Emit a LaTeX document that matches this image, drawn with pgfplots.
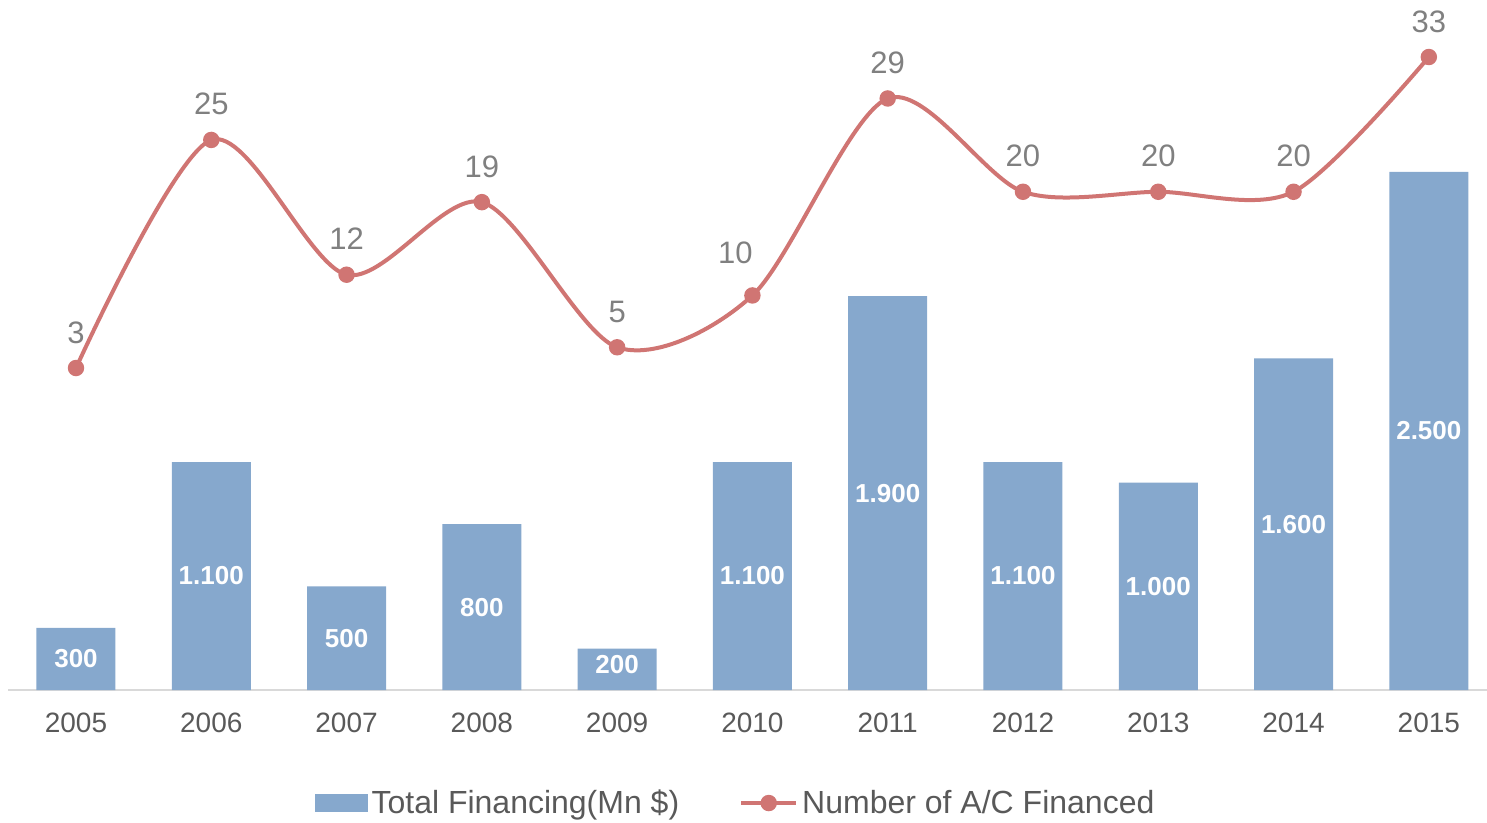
\documentclass[border=0pt]{standalone}
\usepackage{fontspec}
\setmainfont{Liberation Sans}
\usepackage{pgfplots}
\usepackage{pgfplotstable}
\pgfplotsset{compat=1.18}

\definecolor{barblue}{RGB}{134,168,205}
\definecolor{linered}{RGB}{208,117,115}
\definecolor{ticktext}{RGB}{89,89,89}
\definecolor{labtext}{RGB}{128,128,128}
\definecolor{axisgray}{RGB}{217,217,217}

% year index, financing (Mn $), number of A/C financed,
% plus small label nudges (pt) where the chart moved a label
\pgfplotstableread{
idx year fin  acs lx   ly  by
0   2005 300  3   0    0   0
1   2006 1100 25  0    0   0
2   2007 500  12  0    0   0
3   2008 800  19  0    0   0
4   2009 200  5   0    0   2.5
5   2010 1100 10  -8.5 3.5 0
6   2011 1900 29  0    0   0
7   2012 1100 20  0    0   0
8   2013 1000 20  0    0   0
9   2014 1600 20  0    0   0
10  2015 2500 33  0    0   0
}\datatable

\begin{document}
\begin{tikzpicture}
\pgfplotsset{
  common/.style={
    scale only axis, width=739.3pt, height=345pt,
    xmin=-0.5, xmax=10.43,
    /pgf/number format/assume math mode=true,
    axis y line=none, ytick=\empty,
    major tick length=0pt,
    clip=false,
  }
}
\begin{axis}[common, name=main,
  ymin=0, ymax=3329,
  axis x line*=bottom,
  x axis line style={draw=axisgray, line width=1pt, -},
  xtick={0,...,10},
  xticklabels={2005,2006,2007,2008,2009,2010,2011,2012,2013,2014,2015},
  xticklabel style={font=\fontsize{14}{16}\selectfont, text=ticktext,
    anchor=north, inner sep=0pt, yshift=-11.5pt},
  ybar, bar width=39.5pt,
  nodes near coords,
  visualization depends on={\thisrow{fin} \as \rawy},
  visualization depends on={\thisrow{by} \as \byoff},
  nodes near coords style={font=\fontsize{13}{15}\selectfont\bfseries,
    text=white, anchor=center, inner sep=0pt,
    yshift={-0.05182*\rawy+\byoff}},
  /pgf/number format/fixed, /pgf/number format/precision=0,
  /pgf/number format/1000 sep={.},
]
\addplot[fill=barblue, draw=none] table[x=idx, y=fin] {\datatable};
\end{axis}

\begin{axis}[common,
  ymin=-28.06, ymax=38.5,
  axis x line=none, xtick=\empty,
  legend style={at={(0.4925,-0.1638)}, anchor=center, draw=none,
    fill=none, legend columns=2, font=\fontsize{16}{19}\selectfont,
    text=ticktext, /tikz/every even column/.append style={column sep=28pt}},
  legend cell align=left,
]
\addlegendimage{legend image code/.code={
  \fill[barblue] (0pt,-4.25pt) rectangle (26pt,4.25pt);}}
\addlegendentry{Total Financing(Mn \$)}
\addplot[linered, line width=2pt, smooth, tension=0.5,
  mark=*, mark size=3.1pt, mark options={solid, fill=linered},
  nodes near coords, point meta=y,
  visualization depends on={\thisrow{lx} \as \lxoff},
  visualization depends on={\thisrow{ly} \as \lyoff},
  nodes near coords style={font=\fontsize{15.5}{18}\selectfont,
    text=labtext, anchor=base, inner sep=0pt,
    xshift={\lxoff}, yshift={12.5+\lyoff}},
  legend image code/.code={
    \draw[linered, line width=2pt] (0pt,0pt) -- (27.5pt,0pt);
    \fill[linered] (13.75pt,0pt) circle (3.1pt);}
] table[x=idx, y=acs] {\datatable};
\addlegendentry{Number of A/C Financed}
\end{axis}

\pgfresetboundingbox
\path ([xshift=-4.175pt, yshift=-66pt]main.south west) rectangle (main.north east);
\end{tikzpicture}
\end{document}
